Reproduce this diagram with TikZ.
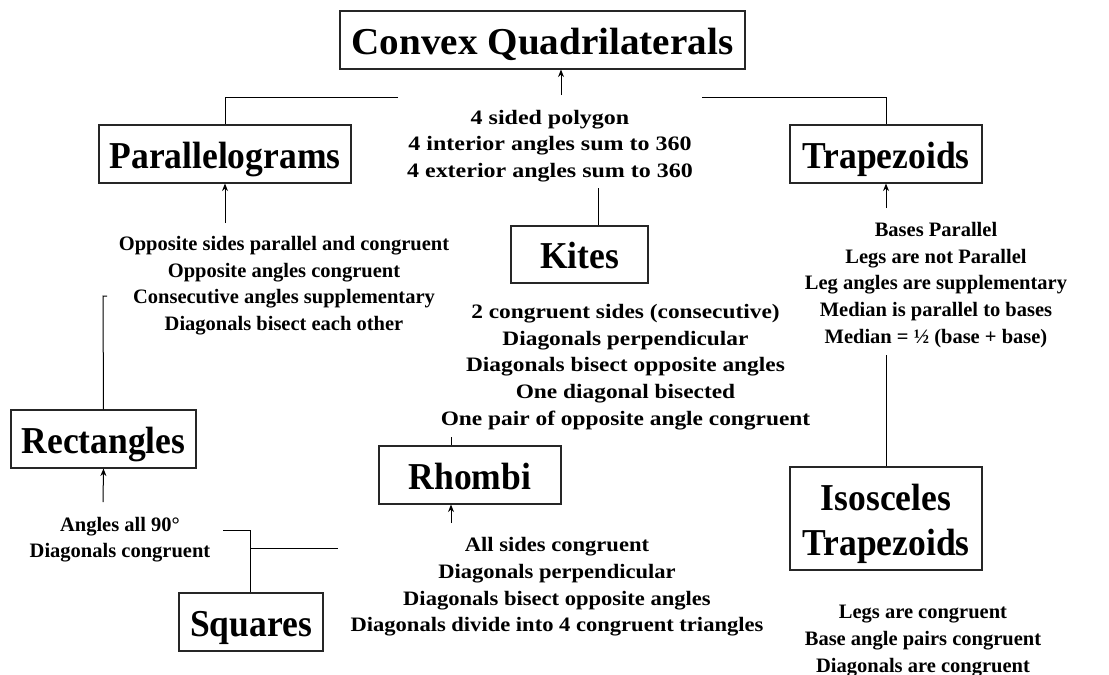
\documentclass[tikz,border=0pt]{standalone}
\usepackage{fontspec}
\setmainfont{Liberation Serif}
\newfontfamily\bigfont[FakeStretch=0.935]{Liberation Serif Bold}
\newfontfamily\convfont[FakeStretch=1.03]{Liberation Serif Bold}
\newfontfamily\wideA[FakeStretch=1.17]{Liberation Serif Bold}
\newfontfamily\wideB[FakeStretch=1.14]{Liberation Serif Bold}
\newfontfamily\wideC[FakeStretch=1.10]{Liberation Serif Bold}
\usetikzlibrary{arrows.meta}
\begin{document}
\begin{tikzpicture}[x=1pt,y=-1pt,
  box/.style={draw=black!85,line width=1.1pt,inner sep=0pt,minimum height=58pt,text height=28pt,text depth=0pt,font=\fontsize{38}{45}\selectfont\bigfont,align=center},
  info/.style={inner sep=0pt,align=center,font=\fontsize{20.5}{26.7}\selectfont\bfseries},
  conn/.style={line width=1pt,black},
  arr/.style={conn,-{Stealth[length=7.5pt,width=6pt]}}]
\useasboundingbox (0,0) rectangle (1109,675);
% boxes
\node[box,minimum width=405pt,font=\fontsize{38}{45}\selectfont\convfont] (conv) at (542.5,40) {Convex Quadrilaterals};
\node[box,minimum width=252pt] (para) at (225,154) {Parallelograms};
\node[box,minimum width=192pt] (trap) at (886,154) {Trapezoids};
\node[box,minimum width=137pt,minimum height=57pt] (kite) at (579.5,254.5) {Kites};
\node[box,minimum width=185pt] (rect) at (103.5,439) {Rectangles};
\node[box,minimum width=182pt] (rhom) at (470,475) {Rhombi};
\node[box,minimum width=144pt] (squa) at (251,622) {Squares};
\node[box,minimum width=192pt,minimum height=103pt,text height=73pt,text depth=0pt] (isos) at (886,518.5) {Isosceles\\Trapezoids};
% texts
\node[info,font=\fontsize{20.5}{26.7}\selectfont\wideA] (convtxt) at (550,146) {4 sided polygon\\4 interior angles sum to 360\\4 exterior angles sum to 360};
\node[info] (paratxt) at (284,285.5) {Opposite sides parallel and congruent\\Opposite angles congruent\\Consecutive angles supplementary\\Diagonals bisect each other};
\node[info] (traptxt) at (936,285) {Bases Parallel\\Legs are not Parallel\\Leg angles are supplementary\\Median is parallel to bases\\Median = ½ (base + base)};
\node[info,font=\fontsize{20.5}{26.7}\selectfont\wideB] (kitetxt) at (625.5,367) {2 congruent sides (consecutive)\\Diagonals perpendicular\\Diagonals bisect opposite angles\\One diagonal bisected\\One pair of opposite angle congruent};
\node[info] (recttxt) at (120,539.5) {Angles all 90°\\Diagonals congruent};
\node[info,font=\fontsize{20.5}{26.7}\selectfont\wideC] (rhomtxt) at (557,587) {All sides congruent\\Diagonals perpendicular\\Diagonals bisect opposite angles\\Diagonals divide into 4 congruent triangles};
\node[info] (isostxt) at (923,641) {Legs are congruent\\Base angle pairs congruent\\Diagonals are congruent};
% free ends
\coordinate (cA) at (561,95);
\coordinate (cL) at (398,97);
\coordinate (cR) at (702,97);
\coordinate (pA) at (225,223);
\coordinate (tA) at (886,208);
\coordinate (kL) at (598,188);
\coordinate (rL) at (107,296);
\coordinate (rA) at (103,502);
\coordinate (sL) at (223,530);
\coordinate (sJ) at (250,548);
\coordinate (sR) at (338,548);
\coordinate (hT) at (451,437);
\coordinate (hA) at (451,523);
\coordinate (iL) at (886,355);
% connectors
\draw[arr] (cA) -- (cA |- conv.south);
\draw[conn] (cL) -| (para.north);
\draw[conn] (cR) -| (trap.north);
\draw[arr] (pA) -- (para.south);
\draw[arr] (tA) -- (trap.south);
\draw[conn] (kL) -- (kL |- kite.north);
\draw[conn] (rL) -- (103,296) -- (rect.north);
\draw[arr] (rA) -- (rect.south);
\draw[conn] (sL) -| (sJ |- squa.north);
\draw[conn] (sJ) -- (sR);
\draw[conn] (hT) -- (hT |- rhom.north);
\draw[arr] (hA) -- (hA |- rhom.south);
\draw[conn] (iL) -- (isos.north);
\end{tikzpicture}
\end{document}
